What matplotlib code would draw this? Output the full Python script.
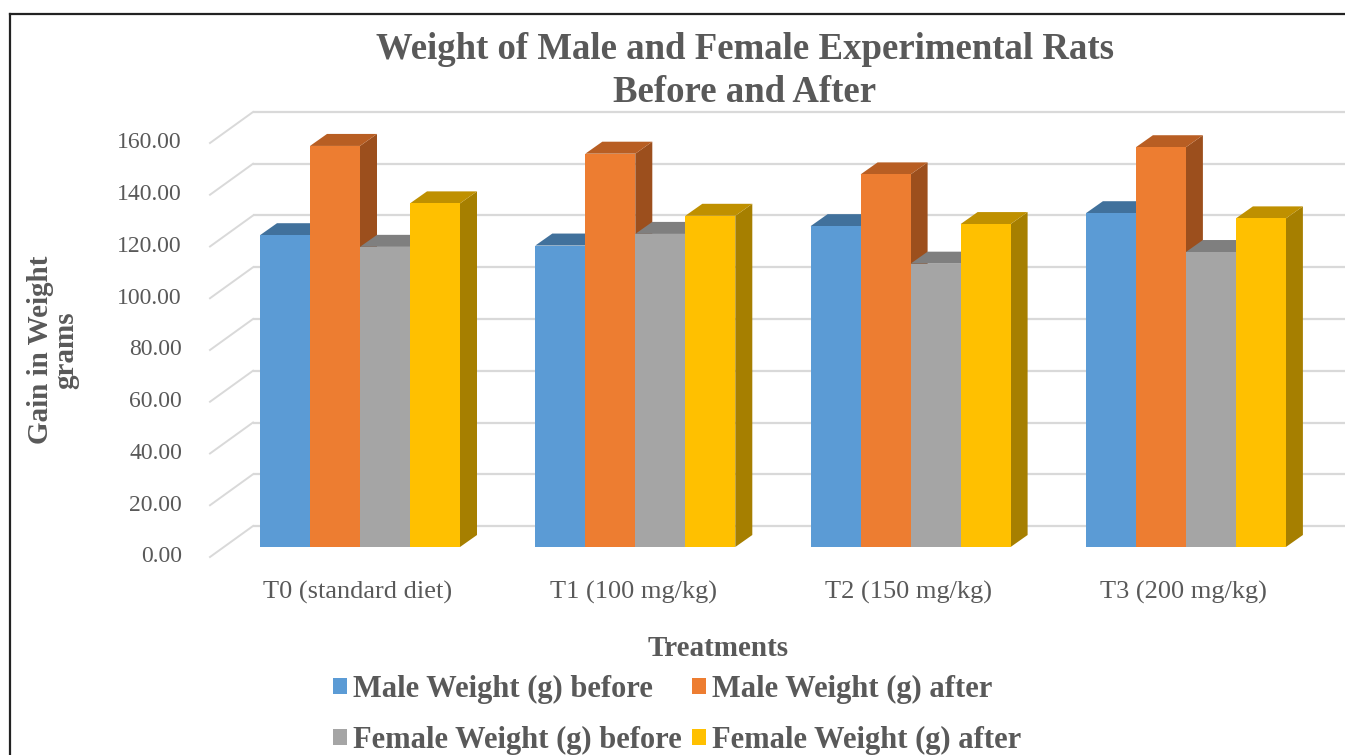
import matplotlib
matplotlib.use("Agg")
import matplotlib.pyplot as plt
from matplotlib.patches import Polygon, Patch
from matplotlib.lines import Line2D
import numpy as np

# ---- data ----
categories = ["T0 (standard diet)", "T1 (100 mg/kg)", "T2 (150 mg/kg)", "T3 (200 mg/kg)"]
series_names = ["Male Weight (g) before", "Male Weight (g) after",
                "Female Weight (g) before", "Female Weight (g) after"]
male_before = [120.5, 116.5, 124.0, 129.0]
male_after = [155.0, 152.0, 144.0, 154.5]
female_before = [116.0, 121.0, 109.5, 114.0]
female_after = [132.8, 128.0, 124.8, 127.0]
y_ticks = [0, 20, 40, 60, 80, 100, 120, 140, 160]

series = [male_before, male_after, female_before, female_after]
front_cols = ["#5B9BD5", "#ED7D31", "#A5A5A5", "#FFC000"]
top_cols = ["#41719C", "#B85E23", "#7F7F7F", "#BF9000"]
side_cols = ["#3A6690", "#9C4F1D", "#6E6E6E", "#A67F00"]

TXT = "#595959"
SERIF = ["Liberation Serif", "DejaVu Serif"]

W, H = 1345, 755
fig = plt.figure(figsize=(W / 100, H / 100), dpi=100)

# axes region in pixel terms
px_left, px_right, px_top, px_bot = 180, 1345, 100, 600
ax = fig.add_axes([px_left / W, 1 - px_bot / H, (px_right - px_left) / W, (px_bot - px_top) / H])
sx = 275.3      # px per category unit
sy = 2.5875     # px per value unit
x0px, y0px = 360, 547
ax.set_xlim((px_left - x0px) / sx, (px_right - x0px) / sx)
ax.set_ylim((y0px - px_bot) / sy, (y0px - px_top) / sy)
ax.axis("off")

# depth offsets (data units)
bdx, bdy = 17 / sx, 12 / sy          # bar depth
wall_dx, wall_dy = 29 / sx, 21 / sy  # back wall relative to bar fronts
fr_dx, fr_dy = -14 / sx, -10 / sy    # front edge (labels) relative to bar fronts

xmax = ax.get_xlim()[1]
wall_x = (253 - x0px) / sx
# gridlines on back wall + diagonal floor/side lines
for v in y_ticks:
    ax.plot([wall_x, xmax + 0.1], [v + wall_dy, v + wall_dy], color="#D9D9D9", lw=1.6, zorder=1,
            solid_capstyle="butt")
    fx = wall_x - (wall_dx - fr_dx)
    ax.plot([fx, wall_x], [v + fr_dy, v + wall_dy], color="#D9D9D9", lw=1.4, zorder=1)
    ax.text(fx - 28 / sx, v + fr_dy, f"{v:.2f}", ha="right", va="center", fontsize=17,
            family=SERIF, color=TXT)

# bars with pseudo 3D faces
bw = 50 / sx
z = 2
for i in range(len(categories)):
    for j, vals in enumerate(series):
        h = vals[i]
        xl = i - 2 * bw + j * bw
        xr = xl + bw
        side = Polygon([(xr, 0), (xr + bdx, bdy), (xr + bdx, h + bdy), (xr, h)],
                       closed=True, facecolor=side_cols[j], edgecolor="none", zorder=z)
        top = Polygon([(xl, h), (xr, h), (xr + bdx, h + bdy), (xl + bdx, h + bdy)],
                      closed=True, facecolor=top_cols[j], edgecolor="none", zorder=z + 0.1)
        ax.add_patch(side)
        ax.add_patch(top)
        ax.bar(xl, h, width=bw, align="edge", color=front_cols[j], edgecolor="none", zorder=z + 0.2)
        z += 1

# category labels
for i, c in enumerate(categories):
    ax.text(i - 2 / sx, (y0px - 592) / sy, c, ha="center", va="center", fontsize=19,
            family=SERIF, color=TXT)

# titles
fig.text(745 / W, 1 - 71 / H, "Weight of Male and Female Experimental Rats\nBefore and After",
         ha="center", va="center", fontsize=26.5, fontweight="bold", family=SERIF, color=TXT,
         linespacing=1.28)
fig.text(718 / W, 1 - 648 / H, "Treatments", ha="center", va="center", fontsize=21,
         fontweight="bold", family=SERIF, color=TXT)
fig.text(53 / W, 1 - 350 / H, "Gain in Weight\ngrams", ha="center", va="center", rotation=90,
         fontsize=21, fontweight="bold", family=SERIF, color=TXT, linespacing=0.95)

# legend
handles = [Patch(facecolor=front_cols[k], edgecolor="none") for k in range(4)]
order = [0, 2, 1, 3]
leg = fig.legend([handles[k] for k in order], [series_names[k] for k in order], ncol=2,
                 loc="center", bbox_to_anchor=(677 / W, 1 - 715 / H), frameon=False,
                 prop={"family": SERIF, "weight": "bold", "size": 22},
                 handlelength=0.45, handleheight=0.45, handletextpad=0.2,
                 columnspacing=0.35, labelspacing=0.72)
for t in leg.get_texts():
    t.set_color(TXT)

# border lines (left & top)
fig.add_artist(Line2D([9.5 / W, 9.5 / W], [0, 1 - 13.5 / H], color="#222222", lw=1.6,
                      transform=fig.transFigure))
fig.add_artist(Line2D([9.5 / W, 1], [1 - 13.5 / H, 1 - 13.5 / H], color="#222222", lw=1.6,
                      transform=fig.transFigure))

fig.savefig("out.png", dpi=100)
